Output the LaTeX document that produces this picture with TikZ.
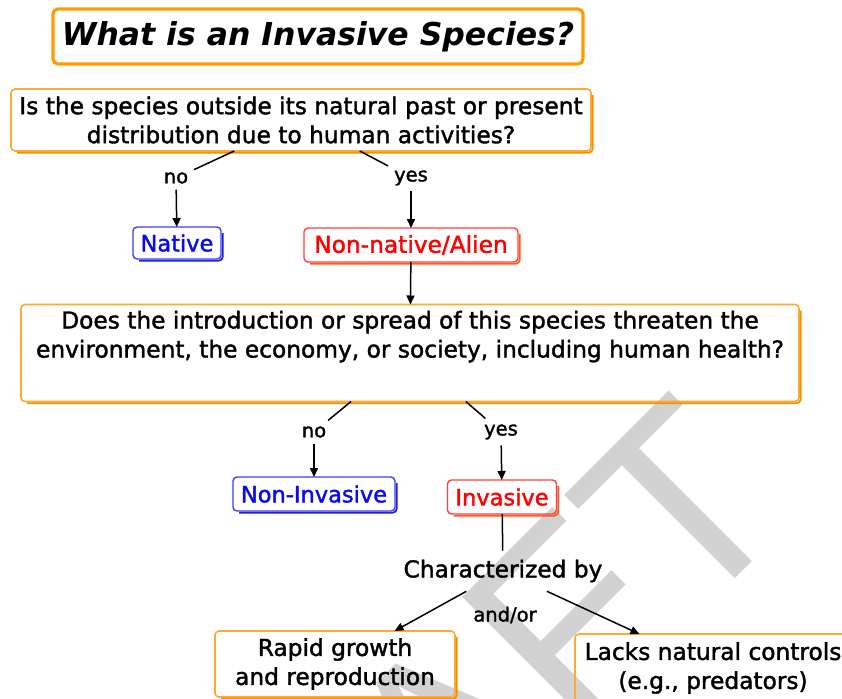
\documentclass[tikz,border=0pt]{standalone}
\usepackage{fontspec}
\setmainfont[UprightFeatures={FakeBold=1.6}]{DejaVu Sans}
\newfontfamily\wmfont{Liberation Sans}
\usetikzlibrary{arrows.meta}

% colours
\definecolor{torange}{HTML}{FF9C00}
\definecolor{qorange}{HTML}{FFA92E}
\definecolor{qshadow}{HTML}{F39200}
\definecolor{nblue}{HTML}{3D3DFF}
\definecolor{nshadow}{HTML}{1F1FE0}
\definecolor{tblue}{HTML}{0A0AF0}
\definecolor{ared}{HTML}{FF3D3D}
\definecolor{ashadow}{HTML}{FF5A1E}
\definecolor{tred}{HTML}{FF0000}
\definecolor{wmgray}{HTML}{D2D2D2}

% font sizes (1pt = 1 unit of the drawing)
\newcommand\fsBody{\fontsize{23.3}{29}\selectfont}
\newcommand\fsLabel{\fontsize{22.5}{28}\selectfont}
\newcommand\fsLink{\fontsize{19.5}{24}\selectfont}
\newcommand\fsTitle{\fontsize{31.5}{38}\selectfont}
\newcommand\fsWater{\fontsize{261}{261}\selectfont}

% offset outline along the bottom and right edge of a box
\newcommand\castshadow[2]{%
  \draw[draw=#2, line width=1.8, rounded corners=4]
    ([xshift=1.7pt,yshift=-6pt]#1.north east)
    -- ([xshift=1.7pt,yshift=-1.7pt]#1.south east)
    -- ([xshift=6pt,yshift=-1.7pt]#1.south west);}

\begin{document}
\begin{tikzpicture}[x=1pt,y=-1pt,
  every node/.style={inner sep=0, outer sep=0},
  box/.style={draw, line width=1.6, rounded corners=4, align=center, font=\fsBody},
  qbox/.style={box, draw=qorange},
  titlebox/.style={draw=torange, line width=3.2, rounded corners=5,
    font=\fsTitle\bfseries\itshape},
  nbox/.style={box, draw=nblue, text=tblue, font=\fsLabel, line width=1.4},
  abox/.style={box, draw=ared, text=tred, line width=1.4},
  link/.style={font=\fsLink, inner sep=6},
  phrase/.style={font=\fsBody, inner sep=9},
  conn/.style={line width=1.5, draw=black},
  arr/.style={conn, -{Triangle[length=9pt,width=8pt]}},
  watermark/.style={font=\wmfont\fsWater, text=wmgray}]

\useasboundingbox (0,0) rectangle (842,698);
\clip (0,0) rectangle (842,698);

% watermark
\node[watermark, rotate=45, anchor=base east] (draft) at (799.8,513.6) {DRAFT};

% concepts
\node[titlebox, minimum width=530, minimum height=55] (title) at (318,36.5)
  {What is an Invasive Species?};
\node[qbox, minimum width=580, minimum height=62] (q1) at (301,120)
  {Is the species outside its natural past or present\\distribution due to human activities?};
\node[link] (no1) at (176,178) {no};
\node[link] (yes1) at (411,178) {yes};
\node[nbox, minimum width=88, minimum height=32] (native) at (177,243) {Native};
\node[abox, minimum width=214, minimum height=34] (alien) at (411,245) {Non-native/Alien};
\node[qbox, minimum width=778, minimum height=97] (q2) at (410,353)
  {Does the introduction or spread of this species threaten the\\environment, the economy, or society, including human health?\\\strut};
\node[link] (no2) at (314,432) {no};
\node[link] (yes2) at (501,432) {yes};
\node[nbox, minimum width=162, minimum height=34] (noninv) at (314,494) {Non-Invasive};
\node[abox, font=\fsLabel, minimum width=109, minimum height=34] (inv) at (502,497) {Invasive};
\node[phrase] (char) at (503,571) {Characterized by};
\node[font=\fsLink] (andor) at (505,615) {and/or};
\node[qbox, minimum width=240, minimum height=66] (rapid) at (335,664)
  {Rapid growth\\and reproduction};
\node[qbox, minimum width=276, minimum height=68] (lacks) at (713,668)
  {Lacks natural controls\\(e.g., predators)};

% shadows
\castshadow{q1}{qshadow}
\castshadow{q2}{qshadow}
\castshadow{rapid}{qshadow}
\castshadow{lacks}{qshadow}
\castshadow{native}{nshadow}
\castshadow{noninv}{nshadow}
\castshadow{alien}{ashadow}
\castshadow{inv}{ashadow}

% connectors
\draw[conn] (q1) -- (no1);
\draw[conn] (q1) -- (yes1);
\draw[arr] (no1) -- (native);
\draw[arr] (yes1) -- (alien);
\draw[arr] (alien) -- (q2);
\draw[conn] (q2) -- (no2);
\draw[conn] (q2) -- (yes2);
\draw[arr] (no2) -- (noninv);
\draw[arr] (yes2) -- (inv);
\draw[conn] (inv) -- (char);
\draw[arr] (char) -- (rapid);
\draw[arr] (char) -- (lacks);
\end{tikzpicture}
\end{document}
